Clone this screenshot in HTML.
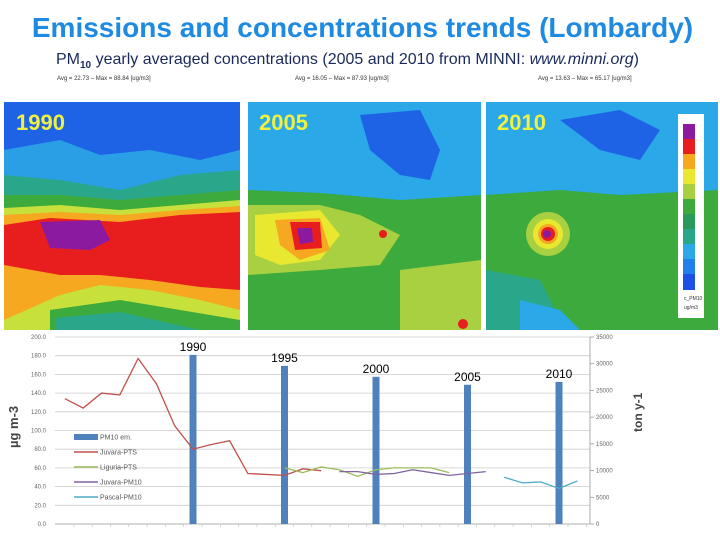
<!DOCTYPE html>
<html><head><meta charset="utf-8">
<style>
html,body{margin:0;padding:0;background:#fff;}
body{width:720px;height:540px;position:relative;overflow:hidden;font-family:"Liberation Sans",sans-serif;}
.t{position:absolute;white-space:nowrap;}
</style></head>
<body>
<div class="t" style="left:0;width:725px;text-align:center;top:12px;font-size:28px;font-weight:bold;color:#1e8ae2;">Emissions and concentrations trends (Lombardy)</div>
<div class="t" style="left:56px;top:51px;font-size:16px;color:#1a2a5a;">PM<sub style="font-size:10px;font-weight:bold">10</sub> yearly averaged concentrations (2005 and 2010 from MINNI: <i>www.minni.org</i>)</div>
<div class="t" style="left:57px;top:76px;font-size:6px;color:#333;">Avg = 22.73 – Max = 88.84 [ug/m3]</div>
<div class="t" style="left:295px;top:76px;font-size:6px;color:#333;">Avg = 16.05 – Max = 87.93 [ug/m3]</div>
<div class="t" style="left:538px;top:76px;font-size:6px;color:#333;">Avg = 13.63 – Max = 65.17 [ug/m3]</div>

<svg width="720" height="540" style="position:absolute;left:0;top:0">
 <defs>
  <clipPath id="c1"><rect x="4" y="102" width="236" height="228"/></clipPath>
  <clipPath id="c2"><rect x="248" y="102" width="233" height="228"/></clipPath>
  <clipPath id="c3"><rect x="486" y="102" width="232" height="228"/></clipPath>
 </defs>
 <g clip-path="url(#c1)">
  <rect x="4" y="102" width="236" height="228" fill="#2a9fe6"/>
  <path d="M4 102H240V150L200 160L150 150L100 155L60 140L4 150Z" fill="#1e62e6"/>
  <path d="M4 175L60 180L120 190L180 175L240 170V330H4Z" fill="#2aa78a"/>
  <path d="M4 195L60 195L120 200L180 195L240 190V330H4Z" fill="#3caa3c"/>
  <path d="M4 208L60 205L120 210L180 205L240 200V330H4Z" fill="#c8e03c"/>
  <path d="M4 215L60 212L120 215L180 210L240 206V310L200 300L150 290L100 285L60 295L4 320Z" fill="#f5a820"/>
  <path d="M4 225L50 218L120 222L180 215L240 212V290L200 287L150 280L100 275L60 275L4 265Z" fill="#e81e1e"/>
  <path d="M40 222L100 220L110 240L90 250L50 248Z" fill="#8c1aa0"/>
  <path d="M60 300L120 290L240 310V330H60Z" fill="#c8e03c"/>
  <path d="M50 310L120 300L240 320V330H50Z" fill="#3caa3c"/>
  <path d="M55 318L120 312L200 330H55Z" fill="#2aa78a"/>
 </g>
 <g clip-path="url(#c2)">
  <rect x="248" y="102" width="233" height="228" fill="#2aa8e8"/>
  <path d="M360 115L420 110L440 150L430 180L400 175L370 150Z" fill="#1e62e6"/>
  <path d="M248 190L320 193L400 200L481 195V330H248Z" fill="#3caa3c"/>
  <path d="M248 205L320 205L360 215L400 235L380 265L320 270L248 275Z" fill="#a8d040"/>
  <path d="M255 215L320 210L340 235L320 260L280 265L255 255Z" fill="#e8e830"/>
  <path d="M275 220L320 218L330 250L300 260L280 245Z" fill="#f5a820"/>
  <path d="M290 222L320 222L322 248L295 250Z" fill="#e81e1e"/>
  <path d="M297 228L312 228L313 242L300 244Z" fill="#8c1aa0"/>
  <path d="M400 270L481 260V330H400Z" fill="#a8d040"/>
  <circle cx="383" cy="234" r="4" fill="#e81e1e"/>
  <circle cx="463" cy="324" r="5" fill="#e81e1e"/>
 </g>
 <g clip-path="url(#c3)">
  <rect x="486" y="102" width="232" height="228" fill="#2aa8e8"/>
  <path d="M560 120L620 110L660 130L640 160L600 150Z" fill="#1e62e6"/>
  <path d="M486 195L560 190L620 195L718 190V330H486Z" fill="#3caa3c"/>
  <path d="M486 270L540 280L560 320V330H486Z" fill="#2aa78a"/>
  <path d="M520 300L560 310L580 330H520Z" fill="#2aa8e8"/>
  <circle cx="548" cy="234" r="22" fill="#a8d040"/>
  <circle cx="548" cy="234" r="15" fill="#e8e830"/>
  <circle cx="548" cy="234" r="10" fill="#f5a820"/>
  <circle cx="548" cy="234" r="7" fill="#e81e1e"/>
  <circle cx="547" cy="234" r="4" fill="#8c1aa0"/>
  <rect x="678" y="114" width="26" height="204" fill="#fff"/>
 </g>
 <g>
  <rect x="683" y="124" width="12" height="15" fill="#8c1aa0"/>
  <rect x="683" y="139" width="12" height="15" fill="#e81e1e"/>
  <rect x="683" y="154" width="12" height="15" fill="#f5a820"/>
  <rect x="683" y="169" width="12" height="15" fill="#e8e830"/>
  <rect x="683" y="184" width="12" height="15" fill="#a8d040"/>
  <rect x="683" y="199" width="12" height="15" fill="#3caa3c"/>
  <rect x="683" y="214" width="12" height="15" fill="#2a9a5a"/>
  <rect x="683" y="229" width="12" height="15" fill="#2aa78a"/>
  <rect x="683" y="244" width="12" height="15" fill="#2aa8e8"/>
  <rect x="683" y="259" width="12" height="15" fill="#1e80e8"/>
  <rect x="683" y="274" width="12" height="16" fill="#1e50e6"/>
  <text x="684" y="300" font-size="5" fill="#333" font-family="Liberation Sans">c_PM10</text>
  <text x="684" y="309" font-size="5" fill="#333" font-family="Liberation Sans">ug/m3</text>
 </g>
 <text x="16" y="130" font-size="22" font-weight="bold" fill="#f0f040" font-family="Liberation Sans">1990</text>
 <text x="259" y="130" font-size="22" font-weight="bold" fill="#f0f040" font-family="Liberation Sans">2005</text>
 <text x="497" y="130" font-size="22" font-weight="bold" fill="#f0f040" font-family="Liberation Sans">2010</text>
</svg>

<svg id="chart" width="720" height="540" style="position:absolute;left:0;top:0"></svg>

<script>
const leftTicks=[0,20,40,60,80,100,120,140,160,180,200];
const rightTicks=[0,5000,10000,15000,20000,25000,30000,35000];
const barYears=[1990,1995,2000,2005,2010];
const barValues=[31650,29600,27550,26060,26600];
const redYears=[1983,1984,1985,1986,1987,1988,1989,1990,1991,1992,1993,1994,1995,1996,1997];
const redValues=[134,124,140,138,177,150,105,80,85,89,54,53,52,59,57];
const greenYears=[1995,1996,1997,1998,1999,2000,2001,2002,2003,2004];
const greenValues=[60,55,61,58,51,58,60,60,60,55];
const purpleYears=[1998,1999,2000,2001,2002,2003,2004,2005,2006];
const purpleValues=[56,56,53,54,58,55,52,54,56];
const cyanYears=[2007,2008,2009,2010,2011];
const cyanValues=[50,44,45,38,46];

const svg=document.getElementById('chart');
const NS='http://www.w3.org/2000/svg';
const X0=55,X1=590,Y0=524,Y1=337;
function xs(yr){return 193+(yr-1990)*18.3;}
function yl(v){return Y0-(v/200)*(Y0-Y1);}
function yr(v){return Y0-(v/35000)*(Y0-Y1);}
function mk(tag,attrs){const e=document.createElementNS(NS,tag);for(const k in attrs)e.setAttribute(k,attrs[k]);svg.appendChild(e);return e;}

leftTicks.forEach(t=>{
  const g=mk('line',{x1:X0,x2:X1,y1:yl(t),y2:yl(t),stroke:t===0?'#999':'#ccc','stroke-width':0.8});
  
  
  const tx=mk('text',{x:46,y:yl(t)+2,'font-size':6,'text-anchor':'end',fill:'#666','font-family':'Liberation Sans'});
  tx.textContent=t.toFixed(1);
  
  
});
mk('line',{x1:X1,x2:X1,y1:Y1,y2:Y0,stroke:'#999','stroke-width':0.8});
rightTicks.forEach(t=>{
  const tk=mk('line',{x1:X1,x2:X1+4,y1:yr(t),y2:yr(t),stroke:'#999','stroke-width':0.8});
  
  
  const tx=mk('text',{x:596,y:yr(t)+2,'font-size':6,fill:'#666','font-family':'Liberation Sans'});
  tx.textContent=String(t);
  
  
});
for(let y=1983;y<=2011;y++){
  const tk=mk('line',{x1:xs(y)+9,x2:xs(y)+9,y1:Y0,y2:Y0+3,stroke:'#bbb','stroke-width':0.6});
  
  
}
barYears.forEach((yrv,i)=>{
  const b=mk('rect',{x:xs(yrv)-3.5,y:yr(barValues[i]),width:7,height:Y0-yr(barValues[i]),fill:'#4f81bd'});
  
  
  const t=mk('text',{x:xs(yrv),y:yr(barValues[i])-4,'font-size':12,'text-anchor':'middle',fill:'#000','font-family':'Liberation Sans'});
  t.textContent=String(yrv);
  
  
});
function line(ys,vs,color,name){
  const p=mk('polyline',{points:ys.map((y,i)=>xs(y)+','+yl(vs[i])).join(' '),fill:'none',stroke:color,'stroke-width':1.3});
  
  
}
line(redYears,redValues,'#c0504d','juvara-pts-line');
line(greenYears,greenValues,'#9bbb59','liguria-pts-line');
line(purpleYears,purpleValues,'#8064a2','juvara-pm10-line');
line(cyanYears,cyanValues,'#4bacc6','pascal-pm10-line');

const leg=[['PM10 em.','#4f81bd',true],['Juvara-PTS','#c0504d'],['Liguria-PTS','#9bbb59'],['Juvara-PM10','#8064a2'],['Pascal-PM10','#4bacc6']];
leg.forEach((l,i)=>{
  const y=437+i*15;
  const s=l[2]?mk('rect',{x:74,y:y-3,width:24,height:6,fill:l[1]}):mk('line',{x1:74,x2:98,y1:y,y2:y,stroke:l[1],'stroke-width':1.5});
  
  
  const t=mk('text',{x:100,y:y+2.5,'font-size':7,fill:'#555','font-family':'Liberation Sans'});
  t.textContent=l[0];
  
  
});
const ya=mk('text',{x:0,y:0,'font-size':13,'font-weight':'bold',fill:'#444','font-family':'Liberation Sans',transform:'translate(18,448) rotate(-90)'});
ya.textContent='µg m-3';


const ra=mk('text',{x:0,y:0,'font-size':12,'font-weight':'bold',fill:'#444','font-family':'Liberation Sans',transform:'translate(642,432) rotate(-90)'});
ra.textContent='ton y-1';


</script>
</body></html>
